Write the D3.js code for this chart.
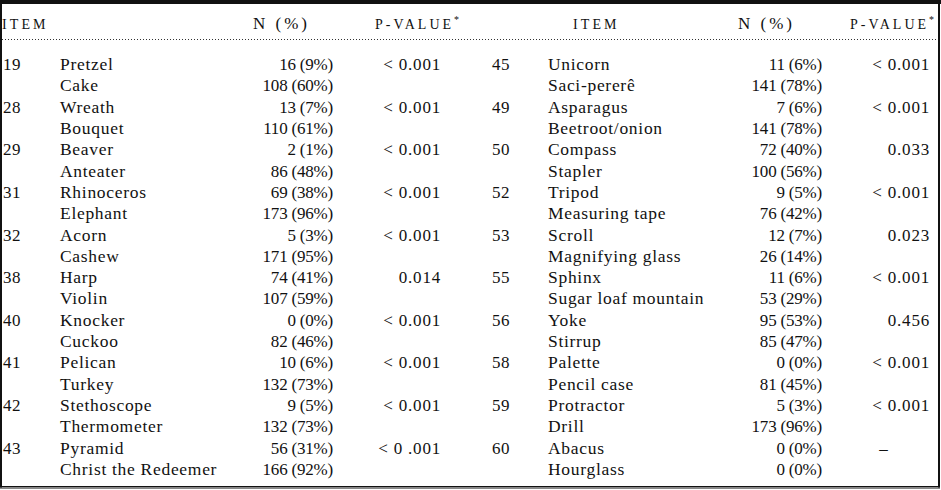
<!DOCTYPE html>
<html><head><meta charset="utf-8">
<script src="https://cdn.jsdelivr.net/npm/d3@7"></script>
<style>
html,body{margin:0;padding:0;background:#fff;}
svg text{font-family:"Liberation Serif","DejaVu Serif",serif;fill:#111;}
</style></head>
<body><svg id="c" width="941" height="490"></svg>
<script>
// ---- data ----
const leftNumbers = ["19","28","29","31","32","38","40","41","42","43"];
const leftItemsA = ["Pretzel","Wreath","Beaver","Rhinoceros","Acorn","Harp","Knocker","Pelican","Stethoscope","Pyramid"];
const leftCountsA = [16,13,2,69,5,74,0,10,9,56];
const leftPctA = [9,7,1,38,3,41,0,6,5,31];
const leftItemsB = ["Cake","Bouquet","Anteater","Elephant","Cashew","Violin","Cuckoo","Turkey","Thermometer","Christ the Redeemer"];
const leftCountsB = [108,110,86,173,171,107,82,132,132,166];
const leftPctB = [60,61,48,96,95,59,46,73,73,92];
const leftP = ["< 0.001","< 0.001","< 0.001","< 0.001","< 0.001","0.014","< 0.001","< 0.001","< 0.001","< 0 .001"];

const rightNumbers = ["45","49","50","52","53","55","56","58","59","60"];
const rightItemsA = ["Unicorn","Asparagus","Compass","Tripod","Scroll","Sphinx","Yoke","Palette","Protractor","Abacus"];
const rightCountsA = [11,7,72,9,12,11,95,0,5,0];
const rightPctA = [6,6,40,5,7,6,53,0,3,0];
const rightItemsB = ["Saci-pererê","Beetroot/onion","Stapler","Measuring tape","Magnifying glass","Sugar loaf mountain","Stirrup","Pencil case","Drill","Hourglass"];
const rightCountsB = [141,141,100,76,26,53,85,81,173,0];
const rightPctB = [78,78,56,42,14,29,47,45,96,0];
const rightP = ["< 0.001","< 0.001","0.033","< 0.001","0.023","< 0.001","0.456","< 0.001","< 0.001","–"];

const headers = ["ITEM","N (%)","P-VALUE"];

// ---- layout ----
const W = 941, H = 490;
const svg = d3.select("#c");

// borders
svg.append("rect").attr("x",0).attr("y",0).attr("width",W).attr("height",4).attr("fill","#111");
svg.append("rect").attr("x",0).attr("y",0).attr("width",2).attr("height",488).attr("fill","#111");
svg.append("rect").attr("x",938).attr("y",0).attr("width",2).attr("height",488).attr("fill","#111");
svg.append("rect").attr("x",0).attr("y",486).attr("width",940).attr("height",1.5).attr("fill","#111");
svg.append("rect").attr("x",0).attr("y",487.5).attr("width",940).attr("height",1.5).attr("fill","#888");
// dotted rule under header
svg.append("line").attr("x1",2).attr("x2",938).attr("y1",39.5).attr("y2",39.5)
  .attr("stroke","#333").attr("stroke-width",1).attr("stroke-dasharray","1,2");

// row scale
const nRows = 20;
const y = d3.scaleLinear().domain([0, nRows-1]).range([65, 470]);

function buildRows(nums, ia, ca, pa, ib, cb, pb, pv){
  const rows = [];
  nums.forEach((n,i)=>{
    rows.push({num:n, item:ia[i], n:`${ca[i]} (${pa[i]}%)`, p:pv[i]});
    rows.push({num:"", item:ib[i], n:`${cb[i]} (${pb[i]}%)`, p:""});
  });
  return rows;
}
const halves = [
  {rows: buildRows(leftNumbers,leftItemsA,leftCountsA,leftPctA,leftItemsB,leftCountsB,leftPctB,leftP),
   xNum:3, xItem:60, xN:333, xP:441, hItem:2, hN:253, hP:375, dashX:417},
  {rows: buildRows(rightNumbers,rightItemsA,rightCountsA,rightPctA,rightItemsB,rightCountsB,rightPctB,rightP),
   xNum:492, xItem:548, xN:822, xP:930, hItem:573, hN:738, hP:850, dashX:884}
];

halves.forEach(h=>{
  const g = svg.append("g");
  // headers
  g.append("text").attr("x",h.hItem).attr("y",28.5).attr("font-size",14)
    .attr("letter-spacing",3.1).text(headers[0]);
  g.append("text").attr("x",h.hN).attr("y",28.5).attr("font-size",17)
    .attr("letter-spacing",3.0).text(headers[1]);
  const pt = g.append("text").attr("x",h.hP).attr("y",28.5).attr("font-size",14)
    .attr("letter-spacing",3.0);
  pt.append("tspan").text(headers[2]);
  pt.append("tspan").attr("dy",-6).attr("font-size",10).attr("letter-spacing",0).text("*");

  const r = g.selectAll("g.row").data(h.rows).join("g").attr("class","row")
    .attr("transform",(d,i)=>`translate(0,${y(i)+5})`);
  r.append("text").attr("x",h.xNum).attr("font-size",17).attr("letter-spacing",0.6).text(d=>d.num);
  r.append("text").attr("x",h.xItem).attr("font-size",17.5).attr("letter-spacing",0.7).text(d=>d.item);
  r.append("text").attr("x",h.xN).attr("text-anchor","end").attr("font-size",17).attr("letter-spacing",-0.2).text(d=>d.n);
  r.append("text").attr("x",d=>d.p==="–"?h.dashX:h.xP)
    .attr("text-anchor",d=>d.p==="–"?"middle":"end").attr("font-size",17).attr("letter-spacing",0.8).text(d=>d.p);
});
</script></body></html>
